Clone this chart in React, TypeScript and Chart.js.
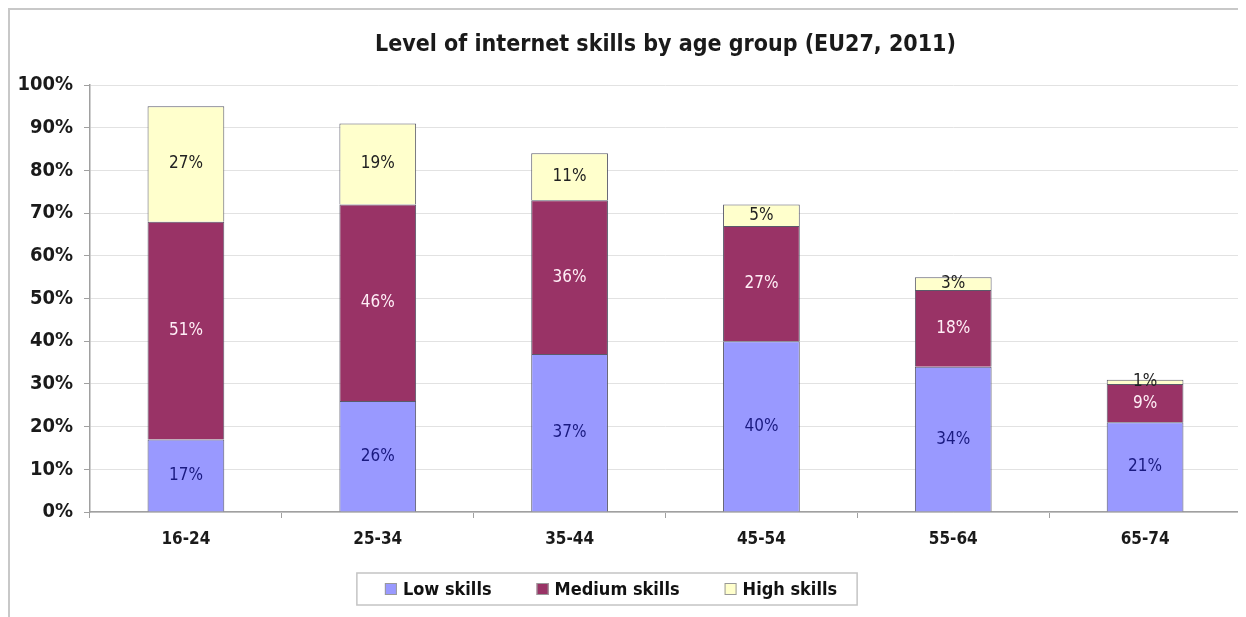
import React, { useEffect, useRef } from "react";
import { Chart, registerables } from "chart.js";

Chart.register(...registerables);

const categories = ["16-24", "25-34", "35-44", "45-54", "55-64", "65-74"];
const lowSkills = [17, 26, 37, 40, 34, 21];
const mediumSkills = [51, 46, 36, 27, 18, 9];
const highSkills = [27, 19, 11, 5, 3, 1];
const seriesNames = ["Low skills", "Medium skills", "High skills"];
const seriesColors = ["#9999ff", "#993366", "#ffffcc"];
const labelColors = ["#1a1a80", "#ffeef6", "#222222"];
const titleText = "Level of internet skills by age group (EU27, 2011)";

const FONT = "'Liberation Sans Narrow', 'Arial Narrow', 'DejaVu Sans Condensed', 'Liberation Sans', sans-serif";

const segmentLabels = {
  id: "segmentLabels",
  afterDatasetsDraw(chart: any) {
    const ctx = chart.ctx;
    ctx.save();
    ctx.font = `17px ${FONT}`;
    ctx.textAlign = "center";
    ctx.textBaseline = "middle";
    chart.data.datasets.forEach((ds: any, i: number) => {
      const meta = chart.getDatasetMeta(i);
      meta.data.forEach((el: any, j: number) => {
        const p = el.getProps(["x", "y", "base"], true);
        ctx.fillStyle = labelColors[i];
        ctx.fillText(`${ds.data[j]}%`, p.x, (p.y + p.base) / 2);
      });
    });
    ctx.restore();
  },
};

const boxedLegend = {
  id: "boxedLegend",
  afterDraw(chart: any) {
    const ctx = chart.ctx;
    const datasets = chart.data.datasets;
    ctx.save();
    ctx.font = `bold 18px ${FONT}`;
    const sq = 12;
    const gapText = 6;
    const gapItem = 45;
    const widths = datasets.map((d: any) => sq + gapText + ctx.measureText(d.label).width);
    const total = widths.reduce((a: number, b: number) => a + b, 0) + gapItem * (datasets.length - 1);
    const padX = 24;
    const cx = 597;
    const top = 563;
    const h = 32;
    const left = cx - total / 2 - padX;
    ctx.strokeStyle = "#c4c4c4";
    ctx.lineWidth = 1.5;
    ctx.strokeRect(left, top, total + padX * 2, h);
    let x = cx - total / 2 + 4;
    const cy = top + h / 2;
    datasets.forEach((d: any, i: number) => {
      ctx.fillStyle = d.backgroundColor;
      ctx.fillRect(x, cy - sq / 2, sq, sq);
      ctx.strokeStyle = "#999";
      ctx.lineWidth = 1;
      ctx.strokeRect(x + 0.5, cy - sq / 2 + 0.5, sq - 1, sq - 1);
      ctx.fillStyle = "#111";
      ctx.textBaseline = "middle";
      ctx.textAlign = "left";
      ctx.fillText(d.label, x + sq + gapText, cy + 1);
      x += widths[i] + gapItem;
    });
    ctx.restore();
  },
};

export default function App() {
  const ref = useRef<HTMLCanvasElement | null>(null);

  useEffect(() => {
    document.documentElement.style.overflow = "hidden";
    document.body.style.overflow = "hidden";
    const canvas = ref.current;
    if (!canvas) return;
    const values = [lowSkills, mediumSkills, highSkills];
    const chart = new Chart(canvas, {
      type: "bar",
      data: {
        labels: categories,
        datasets: values.map((v, i) => ({
          label: seriesNames[i],
          data: v,
          backgroundColor: seriesColors[i],
          borderColor: "#5a5a6a",
          borderWidth: 1,
          barPercentage: 0.4,
          categoryPercentage: 1,
        })),
      },
      options: {
        responsive: false,
        animation: false,
        layout: { padding: { left: 0, right: 5, top: 0, bottom: 55 } },
        plugins: {
          legend: { display: false },
          tooltip: { enabled: false },
          title: {
            display: true,
            text: titleText,
            fullSize: false,
            color: "#1a1a1a",
            font: { family: FONT, size: 23, weight: "bold", lineHeight: 1 },
            padding: { top: 24, bottom: 28 },
          },
        },
        scales: {
          x: {
            stacked: true,
            afterFit: (s: any) => {
              s.height = 50;
            },
            grid: {
              offset: true,
              drawOnChartArea: true,
              color: (c: any) => (c.index === categories.length ? "#c8c8c8" : "rgba(0,0,0,0)"),
              tickColor: "#a0a0a0",
              tickLength: 6,
            },
            border: { color: "#a0a0a0", width: 1.5 },
            ticks: {
              color: "#1a1a1a",
              padding: 11,
              font: { family: FONT, size: 17, weight: "bold" },
            },
          },
          y: {
            stacked: true,
            min: 0,
            max: 100,
            afterFit: (s: any) => {
              s.width = 80;
            },
            grid: { color: "#e2e2e2", tickColor: "#a0a0a0", tickLength: 6 },
            border: { color: "#a0a0a0", width: 1.5 },
            ticks: {
              stepSize: 10,
              color: "#1a1a1a",
              padding: 11,
              font: { family: FONT, size: 20, weight: "bold" },
              callback: (v: any) => `${v}%`,
            },
          },
        },
      },
      plugins: [segmentLabels, boxedLegend],
    });
    return () => chart.destroy();
  }, []);

  return (
    <div
      style={{
        width: 1238,
        height: 609,
        borderTop: "2px solid #c8c8c8",
        borderLeft: "2px solid #c8c8c8",
        boxSizing: "border-box",
        background: "#fff",
      }}
    >
      <canvas ref={ref} width={1236} height={607} style={{ display: "block" }} />
    </div>
  );
}
